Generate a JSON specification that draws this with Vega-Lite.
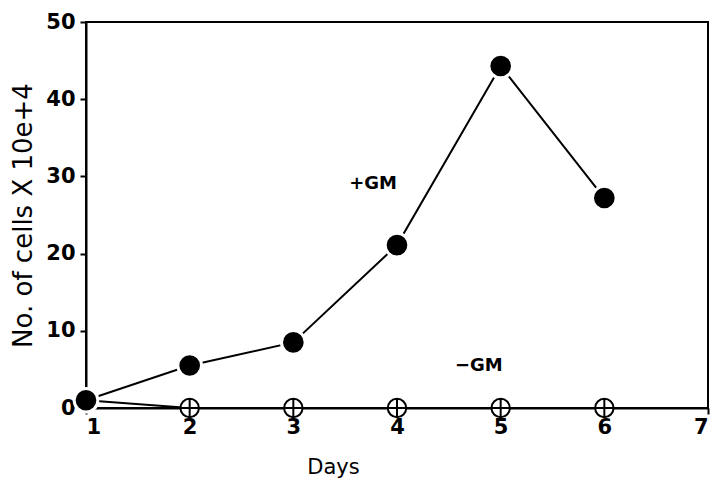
{
  "$schema": "https://vega.github.io/schema/vega-lite/v6.json",
  "width": 622,
  "height": 386,
  "autosize": {"type": "none"},
  "padding": {"left": 86, "top": 22, "right": 3, "bottom": 74},
  "background": "white",
  "config": {
    "view": {"stroke": "black", "strokeWidth": 2},
    "font": "DejaVu Sans",
    "axis": {
      "grid": false,
      "domainColor": "black",
      "domainWidth": 2,
      "tickColor": "black",
      "tickWidth": 2,
      "tickSize": 6,
      "labelColor": "black",
      "labelFont": "DejaVu Sans",
      "labelFontSize": 21,
      "labelFontWeight": "bold",
      "titleColor": "black",
      "titleFont": "DejaVu Sans"
    }
  },
  "datasets": {
    "growth": [
      {"day": 1, "cells": 1.0, "condition": "+GM"},
      {"day": 2, "cells": 5.5, "condition": "+GM"},
      {"day": 3, "cells": 8.5, "condition": "+GM"},
      {"day": 4, "cells": 21.1, "condition": "+GM"},
      {"day": 5, "cells": 44.3, "condition": "+GM"},
      {"day": 6, "cells": 27.2, "condition": "+GM"},
      {"day": 1, "cells": 1.0, "condition": "-GM"},
      {"day": 2, "cells": 0, "condition": "-GM"},
      {"day": 3, "cells": 0, "condition": "-GM"},
      {"day": 4, "cells": 0, "condition": "-GM"},
      {"day": 5, "cells": 0, "condition": "-GM"},
      {"day": 6, "cells": 0, "condition": "-GM"}
    ],
    "labels": [
      {"day": 3.77, "cells": 29.0, "label": "+GM"},
      {"day": 4.79, "cells": 5.4, "label": "−GM"}
    ]
  },
  "layer": [
    {
      "data": {"name": "growth"},
      "mark": {"type": "line", "color": "black", "strokeWidth": 2},
      "encoding": {
        "x": {
          "field": "day", "type": "quantitative",
          "scale": {"domain": [1, 7], "nice": false, "zero": false},
          "axis": {"values": [1, 2, 3, 4, 5, 6, 7], "format": "d", "title": "Days", "titleFontSize": 21, "titleFontWeight": "normal", "labelPadding": 2, "titleX": 247, "titleY": 59, "titleBaseline": "middle"}
        },
        "y": {
          "field": "cells", "type": "quantitative",
          "scale": {"domain": [0, 50], "nice": false},
          "axis": {"values": [0, 10, 20, 30, 40, 50], "title": "No. of cells X 10e+4", "titleFontSize": 26, "titleFontWeight": "normal", "labelPadding": 5, "titleX": -63, "titleBaseline": "middle"}
        },
        "detail": {"field": "condition"}
      }
    },
    {
      "data": {"name": "growth"},
      "transform": [{"filter": "datum.condition === '+GM'"}],
      "mark": {"type": "point", "shape": "circle", "filled": true, "fill": "black", "stroke": "white", "strokeWidth": 3, "size": 560, "opacity": 1},
      "encoding": {
        "x": {"field": "day", "type": "quantitative"},
        "y": {"field": "cells", "type": "quantitative"}
      }
    },
    {
      "data": {"name": "growth"},
      "transform": [{"filter": "datum.condition === '-GM' && datum.day >= 2"}],
      "mark": {"type": "point", "shape": "M-1,0A1,1 0 1,0 1,0A1,1 0 1,0 -1,0ZM-1,0L1,0M0,-1L0,1", "filled": false, "fill": "white", "stroke": "black", "strokeWidth": 2, "size": 340, "opacity": 1},
      "encoding": {
        "x": {"field": "day", "type": "quantitative"},
        "y": {"field": "cells", "type": "quantitative"}
      }
    },
    {
      "data": {"name": "labels"},
      "mark": {"type": "text", "font": "DejaVu Sans", "fontSize": 18, "fontWeight": "bold", "color": "black", "align": "center", "baseline": "middle"},
      "encoding": {
        "x": {"field": "day", "type": "quantitative"},
        "y": {"field": "cells", "type": "quantitative"},
        "text": {"field": "label"}
      }
    }
  ]
}
